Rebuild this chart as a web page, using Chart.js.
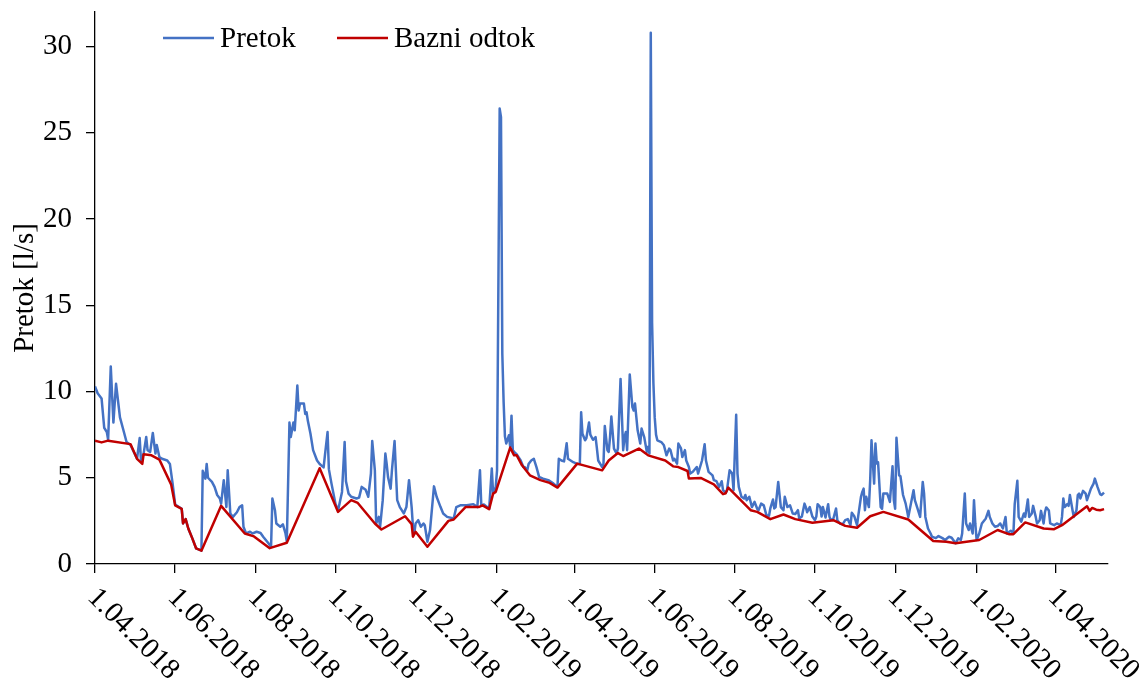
<!DOCTYPE html>
<html>
<head>
<meta charset="utf-8">
<script src="https://cdn.jsdelivr.net/npm/chart.js@4"></script>
<style>
  html, body { margin: 0; padding: 0; background: #fff; }
  canvas { display: block; }
</style>
</head>
<body>
<canvas id="chart" width="1143" height="684"></canvas>
<script>
const FONT = '"Liberation Serif", "Times New Roman", serif';
const START = Date.UTC(2018, 3, 1); // day 0 = 1.04.2018

// ======================
// DATA
// ======================
const tickLabels = [
  "1.04.2018", "1.06.2018", "1.08.2018", "1.10.2018", "1.12.2018",
  "1.02.2019", "1.04.2019", "1.06.2019", "1.08.2019", "1.10.2019",
  "1.12.2019", "1.02.2020", "1.04.2020"
];
const yTickValues = [0, 5, 10, 15, 20, 25, 30];

// Pretok - days since 1.04.2018 / flow in l/s
const flowDay = [
  0, 2, 4, 5, 7, 9, 10, 12, 14, 16,
  19, 22, 24, 27, 32, 34, 35, 37, 39, 40,
  42, 44, 46, 47, 49, 51, 55, 57, 59, 61,
  66, 67, 69, 71, 74, 77, 81, 82, 84, 85,
  86, 89, 91, 93, 95, 96, 98, 100, 101, 103,
  105, 108, 110, 112, 113, 115, 118, 120, 123, 126,
  128, 132, 134, 135, 137, 138, 141, 143, 145, 146,
  148, 149, 151, 152, 154, 155, 156, 159, 160, 161,
  162, 164, 166, 169, 171, 174, 175, 177, 178, 180,
  183, 185, 188, 190, 191, 193, 195, 199, 201, 203,
  206, 208, 210, 211, 213, 214, 216, 217, 219, 221,
  222, 223, 225, 226, 228, 229, 230, 232, 235, 237,
  239, 241, 242, 243, 244, 246, 248, 250, 251, 253,
  255, 258, 260, 263, 265, 268, 273, 275, 278, 283,
  288, 291, 293, 294, 296, 300, 302, 303, 305, 306,
  308, 309, 310, 311, 312, 313, 315, 316, 317, 318,
  319, 321, 324, 326, 327, 329, 330, 332, 334, 336,
  338, 341, 345, 349, 352, 353, 355, 357, 359, 360,
  362, 364, 367, 369, 370, 371, 373, 374, 376, 377,
  379, 381, 382, 383, 386, 387, 388, 390, 391, 392,
  393, 395, 397, 398, 400, 402, 403, 404, 405, 407,
  409, 410, 411, 413, 415, 416, 418, 420, 421, 422,
  423, 424, 425, 426, 427, 428, 431, 433, 435, 437,
  438, 440, 441, 443, 444, 446, 447, 449, 450, 452,
  453, 455, 458, 459, 462, 464, 465, 467, 470, 471,
  473, 475, 477, 478, 480, 481, 483, 485, 486, 488,
  489, 490, 492, 494, 495, 496, 498, 500, 502, 504,
  505, 507, 509, 511, 513, 514, 516, 517, 518, 520,
  522, 524, 525, 527, 529, 531, 533, 535, 536, 538,
  540, 541, 542, 544, 546, 548, 549, 550, 552, 553,
  554, 556, 558, 559, 560, 562, 564, 565, 567, 569,
  571, 573, 575, 576, 578, 580, 581, 583, 584, 585,
  586, 587, 589, 590, 591, 593, 594, 595, 596, 598,
  599, 600, 603, 605, 607, 608, 609, 610, 612, 613,
  615, 617, 619, 621, 623, 624, 626, 628, 630, 631,
  632, 634, 636, 637, 640, 642, 645, 647, 650, 652,
  655, 657, 659, 660, 662, 663, 665, 666, 668, 669,
  670, 671, 673, 675, 678, 680, 681, 683, 685, 687,
  689, 691, 693, 694, 697, 699, 700, 702, 703, 705,
  707, 708, 710, 711, 713, 714, 716, 717, 719, 720,
  722, 723, 724, 726, 727, 730, 732, 735, 736, 737,
  738, 740, 741, 742, 744, 745, 747, 748, 749, 750,
  752, 754, 755, 758, 760, 761, 763, 765, 766, 768
];
const flowVal = [
  10.3, 9.9, 9.7, 9.6, 7.9, 7.65, 7.2, 11.45, 8.2, 10.45,
  8.5, 7.65, 7.07, 6.9, 6.1, 7.3, 6.0, 6.4, 7.36, 6.6,
  6.5, 7.6, 6.4, 6.9, 6.2, 6.1, 6.0, 5.8, 4.7, 3.45,
  3.2, 2.35, 2.6, 2.06, 1.5, 0.9, 0.77, 5.4, 4.95, 5.8,
  5.0, 4.76, 4.47, 4.0, 3.8, 3.5, 4.86, 3.3, 5.43, 2.93,
  2.73, 3.0, 3.3, 3.4, 2.16, 1.77, 1.87, 1.77, 1.87, 1.8,
  1.58, 1.2, 1.0, 3.8, 3.1, 2.35, 2.16, 2.3, 1.77, 1.3,
  8.2, 7.36, 8.2, 7.75, 10.35, 8.9, 9.3, 9.3, 8.7, 8.8,
  8.3, 7.55, 6.6, 6.0, 5.8, 5.6, 6.3, 7.65, 5.5, 4.66,
  3.5, 3.1, 4.18, 7.07, 4.8, 4.08, 3.9, 3.8, 3.85, 4.47,
  4.3, 3.9, 5.24, 7.13, 5.43, 2.35, 2.73, 2.16, 3.7, 6.4,
  5.8, 5.05, 4.37, 5.43, 7.13, 5.43, 3.7, 3.3, 2.93, 3.3,
  4.86, 3.3, 2.16, 1.75, 2.35, 2.54, 2.16, 2.35, 2.25, 1.29,
  1.97, 4.5, 3.9, 3.3, 2.93, 2.73, 2.64, 3.3, 3.4, 3.4,
  3.47, 3.3, 5.43, 3.4, 3.45, 3.2, 5.53, 4.08, 4.47, 5.43,
  26.4, 25.9, 12.2, 9.4, 7.4, 6.98, 7.46, 6.8, 8.6, 6.6,
  6.5, 6.35, 6.0, 5.62, 5.62, 5.43, 5.8, 6.0, 6.1, 5.62,
  5.05, 4.95, 4.86, 4.66, 4.47, 6.1, 6.0, 5.95, 7.0, 6.1,
  6.0, 5.9, 5.8, 5.8, 8.8, 7.55, 7.17, 7.3, 8.2, 7.5,
  7.2, 7.36, 6.7, 6.0, 5.62, 5.8, 8.0, 6.6, 6.5, 7.36,
  8.55, 6.69, 6.4, 6.7, 10.73, 6.6, 7.36, 7.65, 6.6, 10.98,
  9.1, 8.9, 9.3, 7.75, 6.98, 7.85, 7.36, 6.5, 6.8, 6.4,
  30.8, 14.0, 10.5, 8.5, 7.5, 7.17, 7.07, 6.88, 6.3, 6.69,
  6.6, 6.0, 6.1, 5.82, 6.98, 6.7, 6.2, 6.6, 6.0, 5.62,
  5.24, 5.35, 5.62, 5.24, 6.0, 6.94, 6.0, 5.34, 5.14, 4.86,
  4.8, 4.47, 4.8, 4.28, 4.12, 4.28, 5.43, 5.24, 4.28, 8.65,
  5.24, 4.47, 3.9, 3.8, 4.0, 3.7, 3.9, 3.3, 3.6, 3.2,
  3.12, 3.5, 3.4, 2.83, 2.8, 3.22, 3.74, 3.22, 3.3, 4.76,
  3.3, 3.12, 3.9, 3.3, 3.4, 2.93, 2.9, 3.12, 2.64, 2.75,
  3.5, 3.3, 3.0, 3.3, 2.75, 2.54, 2.75, 3.47, 3.3, 2.75,
  3.3, 2.7, 3.47, 2.75, 2.54, 2.64, 3.22, 2.54, 2.35, 2.3,
  2.54, 2.6, 2.25, 2.97, 2.75, 2.25, 2.83, 3.9, 4.18, 4.37,
  3.12, 3.9, 3.3, 4.86, 7.17, 4.66, 6.98, 5.82, 5.9, 3.3,
  3.2, 4.08, 4.08, 3.6, 5.66, 3.7, 3.2, 7.32, 5.14, 5.1,
  4.0, 3.5, 2.73, 3.5, 4.28, 3.7, 3.22, 2.73, 4.76, 4.1,
  2.73, 2.06, 1.77, 1.58, 1.5, 1.62, 1.5, 1.39, 1.58, 1.52,
  1.2, 1.49, 1.39, 1.77, 4.08, 2.35, 1.97, 2.35, 1.77, 3.7,
  2.35, 1.39, 1.77, 2.35, 2.64, 3.08, 2.73, 2.35, 2.16, 2.2,
  2.35, 2.06, 2.73, 1.77, 1.93, 1.77, 3.47, 4.82, 2.73, 2.45,
  2.93, 2.73, 3.74, 2.73, 2.93, 3.37, 2.73, 2.35, 2.54, 3.08,
  2.35, 3.0, 3.28, 3.1, 2.35, 2.25, 2.35, 2.25, 2.73, 3.8,
  3.3, 3.47, 3.37, 4.0, 3.12, 2.73, 3.12, 4.0, 4.08, 3.8,
  4.24, 4.08, 3.7, 4.37, 4.66, 4.95, 4.47, 4.05, 4.0, 4.14
];

// Bazni odtok - breakpoints of the baseflow line
const baseDay = [
  0, 5, 10, 27, 32, 36, 37, 43, 49, 58,
  61, 66, 67, 69, 71, 74, 77, 81, 96, 114,
  121, 133, 146, 171, 185, 195, 200, 213, 218, 236,
  241, 242, 244, 253, 269, 273, 282, 292, 295, 300,
  303, 305, 316, 319, 321, 325, 331, 339, 346, 352,
  367, 386, 391, 398, 402, 414, 421, 434, 440, 444,
  451, 452, 461, 471, 478, 480, 482, 499, 504, 514,
  524, 533, 546, 562, 571, 580, 590, 600, 619, 638,
  648, 655, 673, 687, 696, 699, 708, 722, 730, 736,
  755, 757, 759, 762, 765, 768
];
const baseVal = [
  7.15, 7.05, 7.15, 6.95, 6.1, 5.8, 6.36, 6.3, 6.05, 4.6,
  3.4, 3.2, 2.35, 2.6, 2.06, 1.5, 0.9, 0.77, 3.37, 1.77,
  1.6, 0.92, 1.23, 5.55, 3.02, 3.7, 3.54, 2.35, 2.0, 2.77,
  2.31, 1.58, 1.87, 1.0, 2.5, 2.58, 3.3, 3.3, 3.4, 3.18,
  4.08, 4.18, 6.75, 6.3, 6.3, 5.72, 5.14, 4.86, 4.7, 4.43,
  5.82, 5.43, 6.0, 6.43, 6.26, 6.69, 6.3, 6.0, 5.66, 5.62,
  5.39, 4.95, 4.99, 4.62, 4.05, 4.1, 4.43, 3.12, 3.02, 2.6,
  2.87, 2.6, 2.39, 2.54, 2.21, 2.1, 2.77, 3.02, 2.58, 1.33,
  1.29, 1.2, 1.39, 1.97, 1.72, 1.73, 2.41, 2.06, 2.02, 2.25,
  3.35, 3.08, 3.25, 3.15, 3.12, 3.18
];

function dayOf(label) {
  const [d, m, y] = label.split(".").map(Number);
  return (Date.UTC(y, m - 1, d) - START) / 86400000;
}
const tickDays = tickLabels.map(dayOf);

function points(days, vals) {
  return days.map((d, i) => ({ x: d, y: vals[i] }));
}

// ======================
// SLANTED DATE LABELS + LEGEND
// ======================
const extras = {
  id: "extras",
  afterDraw(chart) {
    const ctx = chart.ctx;
    const xs = chart.scales.x;
    const bottom = chart.chartArea.bottom;

    ctx.save();
    ctx.font = "29px " + FONT;
    ctx.fillStyle = "#000";
    ctx.textAlign = "left";
    ctx.textBaseline = "middle";

    tickLabels.forEach((t, i) => {
      const px = xs.getPixelForValue(tickDays[i]);
      ctx.save();
      ctx.translate(px - 3, bottom + 29);
      ctx.rotate(Math.PI / 4);
      ctx.fillText(t, 0, 0);
      ctx.restore();
    });

    // legend
    const legendX = [163, 337];
    chart.data.datasets.forEach((ds, i) => {
      const x0 = legendX[i];
      ctx.strokeStyle = ds.borderColor;
      ctx.lineWidth = 2.4;
      ctx.beginPath();
      ctx.moveTo(x0, 38);
      ctx.lineTo(x0 + 51, 38);
      ctx.stroke();
      ctx.fillText(ds.label, x0 + 57, 39);
    });
    ctx.restore();
  }
};

const axisGrid = {
  drawOnChartArea: false,
  drawTicks: true,
  tickLength: 9,
  color: "#000",
  lineWidth: 1.3
};

new Chart(document.getElementById("chart"), {
  type: "line",
  data: {
    datasets: [
      {
        label: "Pretok",
        data: points(flowDay, flowVal),
        borderColor: "#4472C4",
        borderWidth: 2.5,
        borderJoinStyle: "round",
        pointRadius: 0,
        tension: 0,
        order: 2
      },
      {
        label: "Bazni odtok",
        data: points(baseDay, baseVal),
        borderColor: "#C00000",
        borderWidth: 2.5,
        borderJoinStyle: "round",
        pointRadius: 0,
        tension: 0,
        order: 1
      }
    ]
  },
  options: {
    responsive: false,
    animation: false,
    layout: { padding: { top: 12, right: 35, left: 0, bottom: 0 } },
    plugins: {
      legend: { display: false },
      tooltip: { enabled: false }
    },
    scales: {
      x: {
        type: "linear",
        min: 0,
        max: 771,
        afterBuildTicks: s => { s.ticks = tickDays.map(v => ({ value: v })); },
        afterFit: s => {
          s.height = 120;
          s.paddingLeft = 0;
          s.paddingRight = 0;
        },
        ticks: { display: false },
        grid: axisGrid,
        border: { color: "#000", width: 1.3 }
      },
      y: {
        min: 0,
        max: 32,
        afterBuildTicks: s => { s.ticks = yTickValues.map(v => ({ value: v })); },
        afterFit: s => {
          s.width = 95;
          s.paddingTop = 0;
          s.paddingBottom = 0;
        },
        ticks: {
          color: "#000",
          font: { family: FONT, size: 29 },
          padding: 14
        },
        grid: axisGrid,
        border: { color: "#000", width: 1.3 },
        title: {
          display: true,
          text: "Pretok [l/s]",
          color: "#000",
          font: { family: FONT, size: 29 },
          padding: { top: 8, bottom: 0 }
        }
      }
    }
  },
  plugins: [extras]
});
</script>
</body>
</html>
